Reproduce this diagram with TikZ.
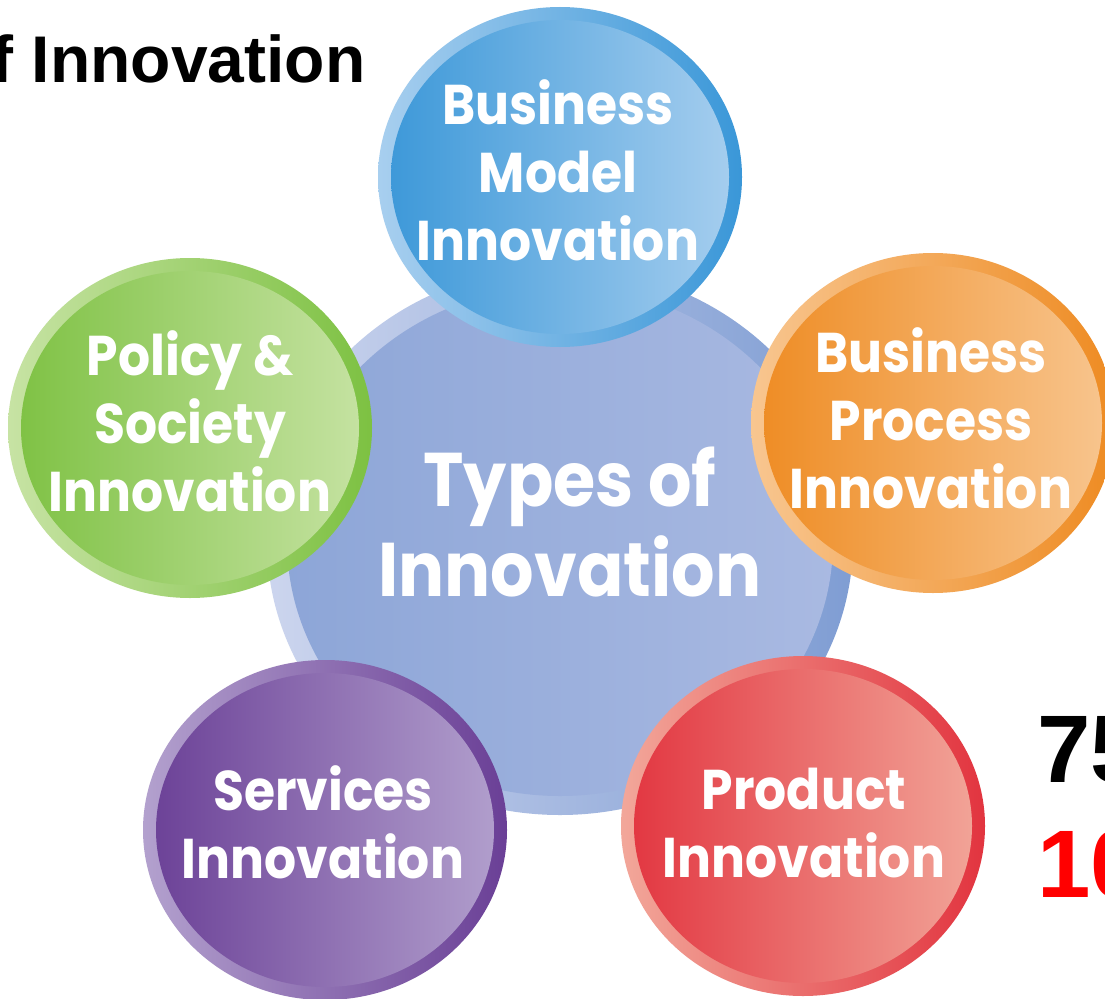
\documentclass[tikz,border=0pt]{standalone}
\usepackage{fontspec}
\setmainfont{Liberation Sans}
\newfontfamily\roundfont{Poppins}[FakeStretch=0.9]
\usetikzlibrary{positioning,
        shapes.geometric}
\definecolor{bmdark}{HTML}{3A97D8}
\definecolor{bmlight}{HTML}{A8CFEF}
\definecolor{psdark}{HTML}{7DC142}
\definecolor{pslight}{HTML}{C7E3A4}
\definecolor{bpdark}{HTML}{EE8B22}
\definecolor{bplight}{HTML}{F8C690}
\definecolor{svdark}{HTML}{6A3F96}
\definecolor{svlight}{HTML}{B3A1CE}
\definecolor{pddark}{HTML}{E2343F}
\definecolor{pdlight}{HTML}{F2A79A}
\definecolor{hubdark}{HTML}{7F9DD3}
\definecolor{hublight}{HTML}{CCD5EE}
\definecolor{hubfill}{HTML}{8CA5D7}
\definecolor{hubfilllight}{HTML}{AABAE2}

\begin{document}
\begin{tikzpicture}[x=1pt,y=-1pt,
            bubble/.style 2 args={ellipse,minimum width=364pt,minimum height=340pt,inner sep=0pt,
                left color=#2,right color=#1,
                path picture={\shade[left color=#1,right color=#2] (path picture bounding box.center) ellipse [x radius=169pt,y radius=157pt];}},
            bubbletext/.style={text=white,align=center,font=\roundfont\bfseries\fontsize{56}{68}\selectfont},
            bignum/.style={anchor=base west,font=\bfseries\fontsize{96}{96}\selectfont}]
            \fill[white] (0,0) rectangle (1105,998);
            \useasboundingbox (0,0) rectangle (1105,998);
            \clip (0,0) rectangle (1105,998);

            \node [ellipse,minimum width=586pt,minimum height=548pt,inner sep=0pt,
                left color=hublight,right color=hubdark,
                path picture={\shade[left color=hubfill,right color=hubfilllight] (path picture bounding box.center) ellipse [x radius=273pt,y radius=255pt];}] (hub) at (560,541) {};
            \node [text=white,align=center,font=\roundfont\bfseries\fontsize{76}{90}\selectfont] (hub text) at (570,522) {Types of\\Innovation};

            \node [bubble={bmdark}{bmlight}] (bm) at (560,177) {};
            \node [bubble={psdark}{pslight}] (ps) at (190,428) {};
            \node [bubble={bpdark}{bplight}] (bp) at (933,423) {};
            \node [bubble={svdark}{svlight}] (sv) at (325,830) {};
            \node [bubble={pddark}{pdlight}] (pd) at (803,826) {};

            \node [bubbletext] (bm text) at (558,170) {Business\\Model\\Innovation};
            \node [bubbletext] (ps text) at (190,421) {Policy \&\\Society\\Innovation};
            \node [bubbletext] (bp text) at (931,418) {Business\\Process\\Innovation};
            \node [bubbletext] (sv text) at (323,822) {Services\\Innovation};
            \node [bubbletext] (pd text) at (804,823) {Product\\Innovation};

            \node [anchor=base west,font=\bfseries\fontsize{66}{66}\selectfont] (title) at (-12,82) {f Innovation};
            \node [bignum] (seventyfive) at (1034,782) {75};
            \node [bignum,text=red] (ten) at (1034,897) {10};
        \end{tikzpicture}
\end{document}
